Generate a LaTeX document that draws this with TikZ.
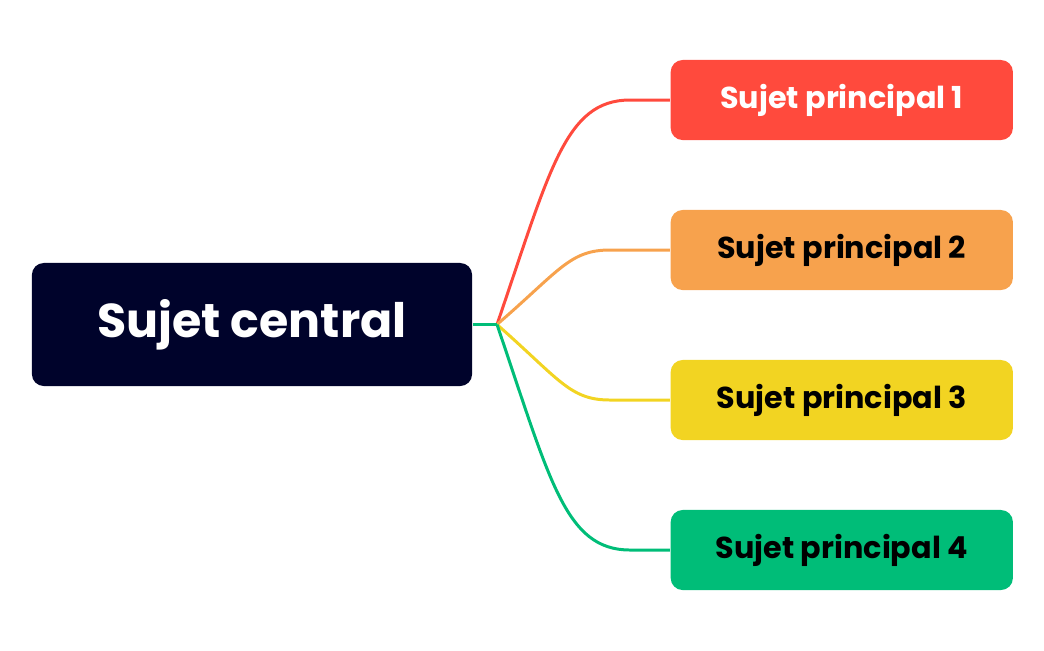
\documentclass[tikz,border=0pt]{standalone}
\usepackage{fontspec}
\setmainfont{Poppins}
\definecolor{navy}{HTML}{00032B}
\definecolor{cred}{HTML}{FF4A3D}
\definecolor{corange}{HTML}{F7A24D}
\definecolor{cyellow}{HTML}{F2D422}
\definecolor{cgreen}{HTML}{00BD78}
\begin{document}
\begin{tikzpicture}[x=0.01cm,y=-0.01cm,
  topic/.style={rounded corners=3.4pt,minimum width=3.42cm,minimum height=0.8cm,anchor=west,inner sep=0pt,font=\fontsize{8.6pt}{10pt}\selectfont\bfseries},
  link/.style={line width=0.85pt}]
\useasboundingbox (0,0) rectangle (1044,650);
\node[fill=navy,rounded corners=3.4pt,minimum width=4.4cm,minimum height=1.23cm,inner sep=0pt,text=white,font=\fontsize{13.5pt}{16pt}\selectfont\bfseries] (c) at (252,324.5) {Sujet central};
\node[topic,fill=cred,text=white] (t1) at (670,100) {Sujet principal 1};
\node[topic,fill=corange,text=black] (t2) at (670,250) {Sujet principal 2};
\node[topic,fill=cyellow,text=black] (t3) at (670,400) {Sujet principal 3};
\node[topic,fill=cgreen,text=black] (t4) at (670,550) {Sujet principal 4};
\coordinate (j) at (497,324.5);
\draw[link,cred] (j) .. controls (550,170) and (565,100) .. (630,100) -- (t1.west);
\draw[link,corange] (j) .. controls (560,270) and (570,250) .. (610,250) -- (t2.west);
\draw[link,cyellow] (j) .. controls (560,380) and (570,400) .. (610,400) -- (t3.west);
\draw[link,cgreen] (j) .. controls (550,480) and (565,550) .. (630,550) -- (t4.west);
\draw[link,cgreen] (c.east) -- (j);
\end{tikzpicture}
\end{document}
